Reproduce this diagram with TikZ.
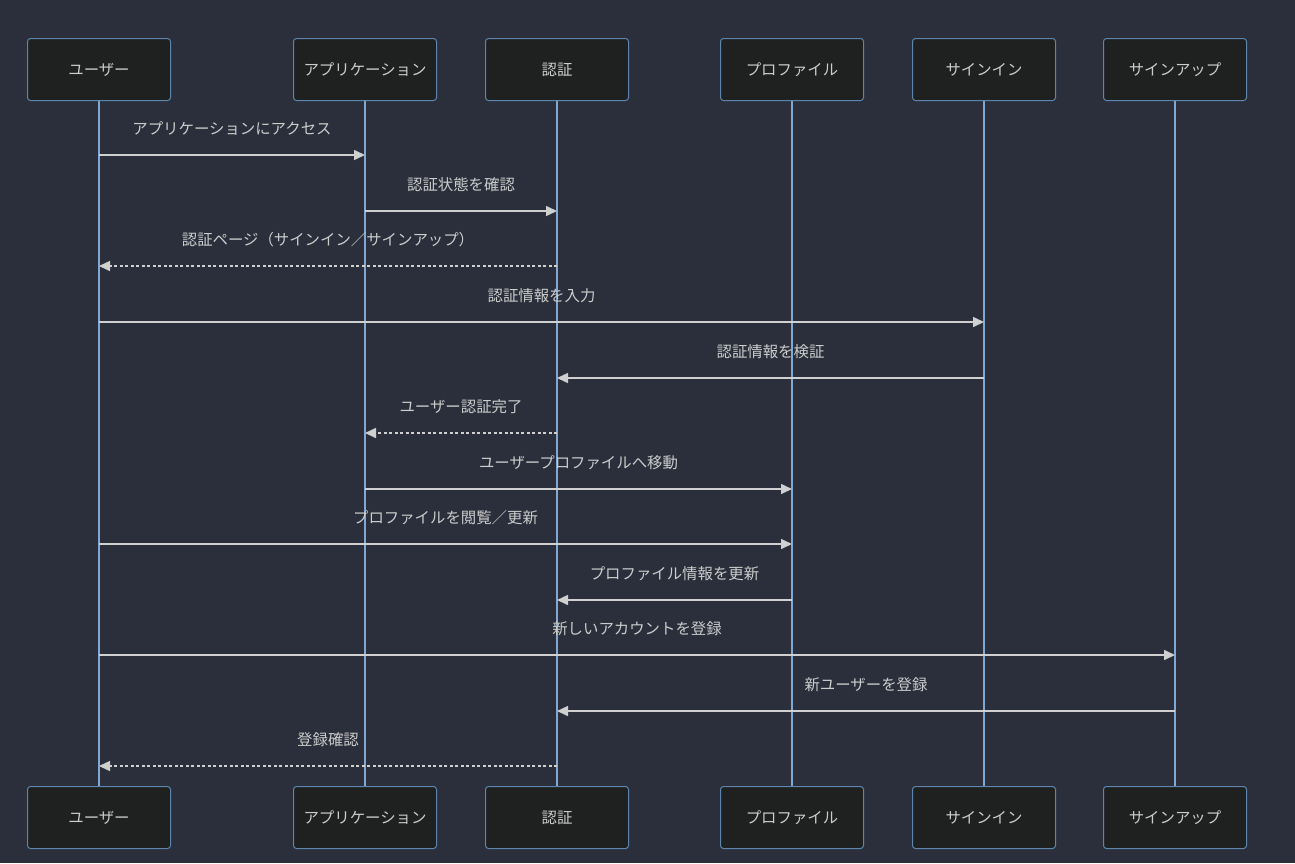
\documentclass[tikz,border=0pt]{standalone}
\usepackage{fontspec}
\setmainfont{Noto Sans CJK JP}
\usetikzlibrary{arrows.meta}
\definecolor{bg}{HTML}{2A2F3B}
\definecolor{boxfill}{HTML}{1F2020}
\definecolor{boxline}{HTML}{5E86AD}
\definecolor{life}{HTML}{7FA8D4}
\definecolor{msg}{HTML}{D0D0D0}
\definecolor{txt}{HTML}{CCCCCC}
\tikzset{
  actor/.style={draw=boxline, line width=1pt, fill=boxfill, rounded corners=3pt,
    minimum width=143pt, minimum height=62pt, inner sep=0pt, text=txt,
    font=\fontsize{15.4}{18}\selectfont},
  lifeline/.style={draw=life, line width=1.8pt},
  msgline/.style={draw=msg, line width=1.5pt, -{Triangle[length=11pt,width=10pt]}},
  reply/.style={msgline, dash pattern=on 3pt off 2.5pt},
  lbl/.style={text=txt, font=\fontsize{15.4}{18}\selectfont, inner sep=0pt},
}
\begin{document}
\begin{tikzpicture}[x=1pt,y=-1pt]
\fill[bg] (0,0) rectangle (1295,863);
\useasboundingbox (0,0) rectangle (1295,863);
% lifelines x positions
\foreach \n/\x in {u/99,a/365,r/557,p/792,s/984,g/1175}{
  \coordinate (\n top) at (\x,100);
  \coordinate (\n bot) at (\x,786);
}
\draw[lifeline] (utop) -- (ubot);
\draw[lifeline] (atop) -- (abot);
\draw[lifeline] (rtop) -- (rbot);
\draw[lifeline] (ptop) -- (pbot);
\draw[lifeline] (stop) -- (sbot);
\draw[lifeline] (gtop) -- (gbot);
% actors
\node[actor] (U1) at (99,69.5) {ユーザー};
\node[actor] (A1) at (365,69.5) {アプリケーション};
\node[actor] (R1) at (557,69.5) {認証};
\node[actor] (P1) at (792,69.5) {プロファイル};
\node[actor] (S1) at (984,69.5) {サインイン};
\node[actor] (G1) at (1175,69.5) {サインアップ};
\node[actor] (U2) at (99,817.5) {ユーザー};
\node[actor] (A2) at (365,817.5) {アプリケーション};
\node[actor] (R2) at (557,817.5) {認証};
\node[actor] (P2) at (792,817.5) {プロファイル};
\node[actor] (S2) at (984,817.5) {サインイン};
\node[actor] (G2) at (1175,817.5) {サインアップ};
% message endpoints
\newcommand{\msgat}[6]{%
  \coordinate (m#1s) at (#2,#4);
  \coordinate (m#1e) at (#3,#4);
  \draw[#5] (m#1s) -- (m#1e);
  \node[lbl] (l#1) at ({(#2+#3)/2},{#4-26}) {#6};
}
\msgat{1}{99}{365}{155}{msgline}{アプリケーションにアクセス}
\msgat{2}{365}{557}{211}{msgline}{認証状態を確認}
\msgat{3}{557}{99}{266}{reply}{認証ページ（サインイン／サインアップ）}
\msgat{4}{99}{984}{322}{msgline}{認証情報を入力}
\msgat{5}{984}{557}{378}{msgline}{認証情報を検証}
\msgat{6}{557}{365}{433}{reply}{ユーザー認証完了}
\msgat{7}{365}{792}{489}{msgline}{ユーザープロファイルへ移動}
\msgat{8}{99}{792}{544}{msgline}{プロファイルを閲覧／更新}
\msgat{9}{792}{557}{600}{msgline}{プロファイル情報を更新}
\msgat{10}{99}{1175}{655}{msgline}{新しいアカウントを登録}
\msgat{11}{1175}{557}{711}{msgline}{新ユーザーを登録}
\msgat{12}{557}{99}{766}{reply}{登録確認}
\end{tikzpicture}
\end{document}
